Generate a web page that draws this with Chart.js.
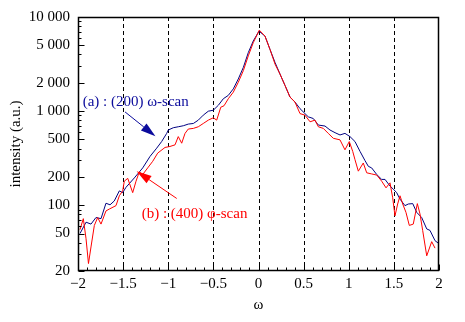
<!DOCTYPE html>
<html><head><meta charset="utf-8">
<script src="https://cdn.jsdelivr.net/npm/chart.js@4/dist/chart.umd.min.js"></script>
<style>html,body{margin:0;padding:0;background:#fff}#wrap{width:465px;height:322px;position:relative}</style>
</head><body><div id="wrap"><canvas id="c" width="465" height="322"></canvas></div>
<script>
const blueOmega = [-1.978,-1.911,-1.856,-1.801,-1.745,-1.690,-1.645,-1.598,-1.542,-1.505,-1.468,-1.376,-1.283,-1.202,-1.128,-1.073,-1.017,-0.999,-0.944,-0.889,-0.833,-0.778,-0.722,-0.667,-0.612,-0.556,-0.501,-0.445,-0.390,-0.335,-0.279,-0.224,-0.168,-0.113,-0.058,0.006,0.072,0.127,0.183,0.238,0.294,0.349,0.404,0.460,0.515,0.552,0.607,0.663,0.737,0.792,0.848,0.903,0.958,1.014,1.069,1.125,1.180,1.217,1.254,1.310,1.365,1.402,1.457,1.494,1.531,1.568,1.623,1.660,1.709,1.753,1.808,1.864,1.900,1.956,2.0];
const blueIntensity = [50,66,63,74,72,105,101,111,142,136,155,195,249,330,404,475,580,630,666,682,699,728,739,802,906,998,1022,1153,1353,1469,1723,2195,2913,4188,5557,7077,6269,4535,3287,2477,1871,1410,1249,1062,941,869,834,711,694,630,590,558,580,536,475,373,298,259,249,212,188,188,160,148,136,116,99,103,104,84,74,56,54,42,39];
const redOmega = [-1.978,-1.941,-1.911,-1.884,-1.856,-1.819,-1.782,-1.745,-1.690,-1.653,-1.579,-1.542,-1.505,-1.487,-1.449,-1.394,-1.357,-1.321,-1.283,-1.228,-1.172,-1.117,-1.036,-0.981,-0.925,-0.889,-0.851,-0.814,-0.778,-0.722,-0.667,-0.612,-0.556,-0.501,-0.463,-0.418,-0.382,-0.335,-0.279,-0.224,-0.168,-0.113,-0.058,0.009,0.072,0.127,0.183,0.238,0.294,0.349,0.404,0.460,0.515,0.571,0.626,0.663,0.718,0.773,0.829,0.903,0.958,1.006,1.044,1.069,1.106,1.161,1.199,1.254,1.310,1.365,1.413,1.457,1.487,1.512,1.542,1.568,1.598,1.634,1.671,1.715,1.760,1.789,1.819,1.864,1.919,1.956];
const redIntensity = [55,72,44,24,36,61,74,63,87,91,99,126,142,180,193,136,180,226,212,249,293,358,411,421,438,536,456,580,645,655,682,739,802,849,802,1100,1140,1353,1591,2026,2690,3866,5333,7251,6269,4535,3156,2477,1871,1410,1249,941,906,770,802,682,655,580,514,495,388,475,373,305,230,281,221,215,209,180,153,173,120,77,103,126,103,84,61,63,104,81,54,29,41,35];

const xTickValues = [-2,-1.5,-1,-0.5,0,0.5,1,1.5,2];
const xTickLabels = ['\u22122','\u22121.5','\u22121','\u22120.5','0','0.5','1','1.5','2'];
const xGridValues = [-1.5,-1,-0.5,0,0.5,1,1.5];
const yTickValues = [20,50,100,200,500,1000,2000,5000,10000];
const yTickLabels = ['20','50','100','200','500','1 000','2 000','5 000','10 000'];
const yMinorValues = [30,40,60,70,80,90,300,400,600,700,800,900,3000,4000,6000,7000,8000,9000];
const xMinorValues = [];
for (let i = -20; i <= 20; i++) { if (i % 5 !== 0) xMinorValues.push(i / 10); }

const annotations = [
  {text:'(a) : (200) \u03c9-scan', x:-1.948, y:1249, color:'#0b0b9c', from:[-1.479,981], to:[-1.142,540]},
  {text:'(b) : (400) \u03c6-scan', x:-1.294, y:80.6, color:'#ff0000', from:[-0.906,118], to:[-1.350,230]}
];

const FONT = "'Liberation Serif','Times New Roman',serif";

const decor = {
  id: 'decor',
  beforeDatasetsDraw(chart) {
    const {ctx, chartArea: a, scales: {x}} = chart;
    ctx.save();
    ctx.strokeStyle = '#000';
    ctx.lineWidth = 1;
    ctx.setLineDash([4, 3]);
    xGridValues.forEach(v => {
      const px = Math.round(x.getPixelForValue(v)) + 0.5;
      ctx.beginPath(); ctx.moveTo(px, a.top); ctx.lineTo(px, a.bottom); ctx.stroke();
    });
    ctx.restore();
  },
  afterDatasetsDraw(chart) {
    const {ctx, chartArea: a, scales: {x, y}} = chart;
    ctx.save();
    ctx.strokeStyle = '#000';
    ctx.lineWidth = 1;
    ctx.setLineDash([]);
    const L = Math.round(a.left) + 0.5, R = Math.round(a.right) - 0.5, T = Math.round(a.top) + 0.5, B = Math.round(a.bottom) - 0.5;
    ctx.beginPath();
    xMinorValues.forEach(v => { const px = Math.round(x.getPixelForValue(v)) + 0.5; ctx.moveTo(px, B); ctx.lineTo(px, B - 3); });
    xTickValues.forEach(v => { const px = Math.round(x.getPixelForValue(v)) + 0.5; ctx.moveTo(px, B); ctx.lineTo(px, B - 6); });
    yMinorValues.forEach(v => { const py = Math.round(y.getPixelForValue(v)) + 0.5; ctx.moveTo(L, py); ctx.lineTo(L + 3, py); });
    yTickValues.forEach(v => { const py = Math.round(y.getPixelForValue(v)) + 0.5; ctx.moveTo(L, py); ctx.lineTo(L + 6, py); });
    ctx.stroke();
    ctx.lineWidth = 1.5;
    ctx.strokeRect(L, T, R - L, B - T);
    // annotations
    ctx.font = '15px ' + FONT;
    ctx.textBaseline = 'middle';
    ctx.textAlign = 'left';
    annotations.forEach(an => {
      ctx.fillStyle = an.color;
      ctx.strokeStyle = an.color;
      ctx.fillText(an.text, x.getPixelForValue(an.x), y.getPixelForValue(an.y));
      const x0 = x.getPixelForValue(an.from[0]), y0 = y.getPixelForValue(an.from[1]);
      const x1 = x.getPixelForValue(an.to[0]), y1 = y.getPixelForValue(an.to[1]);
      const ang = Math.atan2(y1 - y0, x1 - x0);
      const hl = 15, hw = 4.5;
      ctx.lineWidth = 1;
      ctx.beginPath(); ctx.moveTo(x0, y0); ctx.lineTo(x1 - hl * Math.cos(ang), y1 - hl * Math.sin(ang)); ctx.stroke();
      const bx = x1 - hl * Math.cos(ang), by = y1 - hl * Math.sin(ang);
      ctx.beginPath();
      ctx.moveTo(x1, y1);
      ctx.lineTo(bx + hw * Math.sin(ang), by - hw * Math.cos(ang));
      ctx.lineTo(bx - hw * Math.sin(ang), by + hw * Math.cos(ang));
      ctx.closePath(); ctx.fill();
    });
    ctx.restore();
  }
};

new Chart(document.getElementById('c'), {
  type: 'line',
  data: {
    datasets: [
      {label:'(b) : (400) \u03c6-scan', data: redOmega.map((v, i) => ({x: v, y: redIntensity[i]})), borderColor:'#ff0000', borderWidth:1, pointRadius:0, tension:0, fill:false},
      {label:'(a) : (200) \u03c9-scan', data: blueOmega.map((v, i) => ({x: v, y: blueIntensity[i]})), borderColor:'#000080', borderWidth:1, pointRadius:0, tension:0, fill:false}
    ]
  },
  options: {
    responsive: false,
    devicePixelRatio: 1,
    animation: false,
    layout: {padding: {left: 0, top: 14, right: 26, bottom: 0}},
    plugins: {legend: {display: false}, tooltip: {enabled: false}},
    scales: {
      x: {
        type: 'linear', min: -2, max: 2,
        grid: {display: false, drawTicks: false},
        border: {display: false},
        afterBuildTicks: s => { s.ticks = xTickValues.map(v => ({value: v})); },
        afterFit: s => { s.height = 51; },
        ticks: {autoSkip: false, maxRotation: 0, padding: 4, color: '#000', font: {family: FONT, size: 15},
          callback: v => { const i = xTickValues.findIndex(t => Math.abs(t - v) < 1e-9); return i >= 0 ? xTickLabels[i] : ''; }},
        title: {display: true, text: '\u03c9', color: '#000', font: {family: FONT, size: 15}, padding: {top: 0, bottom: 8}}
      },
      y: {
        type: 'logarithmic', min: 20, max: 10000,
        grid: {display: false, drawTicks: false},
        border: {display: false},
        afterBuildTicks: s => { s.ticks = yTickValues.map(v => ({value: v})); },
        afterFit: s => { s.width = 78; },
        ticks: {autoSkip: false, padding: 8, color: '#000', font: {family: FONT, size: 15},
          callback: v => { const i = yTickValues.indexOf(v); return i >= 0 ? yTickLabels[i] : ''; }},
        title: {display: true, text: 'intensity (a.u.)', color: '#000', font: {family: FONT, size: 15}, padding: {top: 7, bottom: 0}}
      }
    }
  },
  plugins: [decor]
});
</script>
</body></html>
